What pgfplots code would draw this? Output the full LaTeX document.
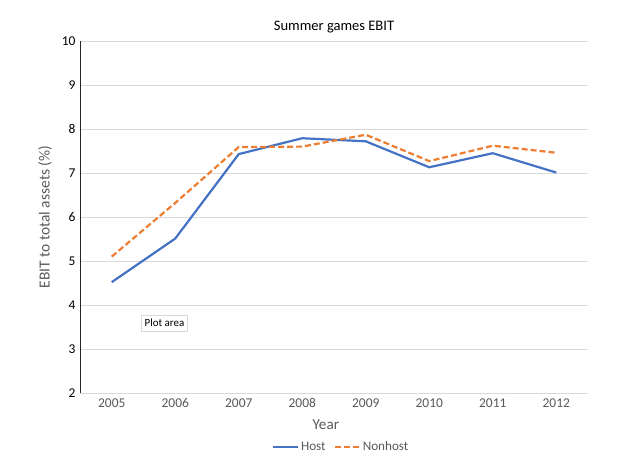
\documentclass[border=0pt]{standalone}
\usepackage{fontspec}
\setmainfont{Carlito}
\usepackage{pgfplots}
\pgfplotsset{compat=1.18}
\usetikzlibrary{shadows}
\definecolor{host}{HTML}{4472C4}
\definecolor{nonhost}{HTML}{ED7D31}
\definecolor{gridc}{HTML}{D9D9D9}
\definecolor{txtg}{HTML}{595959}
\begin{document}
\begin{tikzpicture}[x=1bp,y=1bp]
\path[use as bounding box] (-80,-80) rectangle (538,393);
\begin{axis}[
  at={(0,0)}, anchor=south west,
  scale only axis, width=508bp, height=352bp,
  xmin=-0.5, xmax=7.5, ymin=2, ymax=10,
  xtick={0,...,7},
  xticklabels={2005,2006,2007,2008,2009,2010,2011,2012},
  ytick={2,...,10},
  ymajorgrids,
  major grid style={gridc, line width=0.75bp},
  axis lines=left,
  x axis line style={gridc, line width=0.75bp, -},
  y axis line style={black!85, line width=0.75bp, -},
  major tick length=0pt,
  /pgf/number format/assume math mode=true,
  xticklabel style={font=\fontsize{13.5}{15}\selectfont, text=txtg, yshift=-2bp},
  yticklabel style={font=\fontsize{13.5}{15}\selectfont, text=black, xshift=-1bp},
  clip=false,
  legend columns=2,
  legend style={at={(0.514,-0.153)}, anchor=center, draw=none, fill=none,
    font=\fontsize{13.2}{15}\selectfont, text=txtg,
    /tikz/every even column/.append style={column sep=6bp}},
  legend image code/.code={\draw[#1] (0bp,0bp) -- (25bp,0bp);},
]
\addplot[host, line width=2.2bp] coordinates {
  (0,4.52) (1,5.51) (2,7.43) (3,7.79) (4,7.72) (5,7.13) (6,7.45) (7,7.01)};
\addlegendentry{Host}
\addplot[nonhost, line width=2.2bp, dash pattern=on 6bp off 3bp] coordinates {
  (0,5.10) (1,6.32) (2,7.59) (3,7.60) (4,7.87) (5,7.27) (6,7.62) (7,7.46)};
\addlegendentry{Nonhost}
\node[font=\fontsize{14.6}{17}\selectfont, text=black] at (axis description cs:0.5,1) [yshift=14bp] {Summer games EBIT};
\node[font=\fontsize{15.2}{17}\selectfont, text=txtg] at (axis description cs:0.484,0) [yshift=-32bp] {Year};
\node[font=\fontsize{15.5}{17}\selectfont, text=txtg, xshift=-35bp, rotate=90] at (axis description cs:0,0.5) {EBIT to total assets (\%)};
\node[font=\fontsize{11}{13}\selectfont, fill=white, draw=gridc, line width=0.4bp,
  inner sep=2.5bp, minimum width=46bp, minimum height=16bp,
  drop shadow={opacity=0.15, shadow xshift=0.5bp, shadow yshift=-0.5bp}]
  at (axis cs:0.83,3.59) {Plot area};
\end{axis}
\end{tikzpicture}
\end{document}
